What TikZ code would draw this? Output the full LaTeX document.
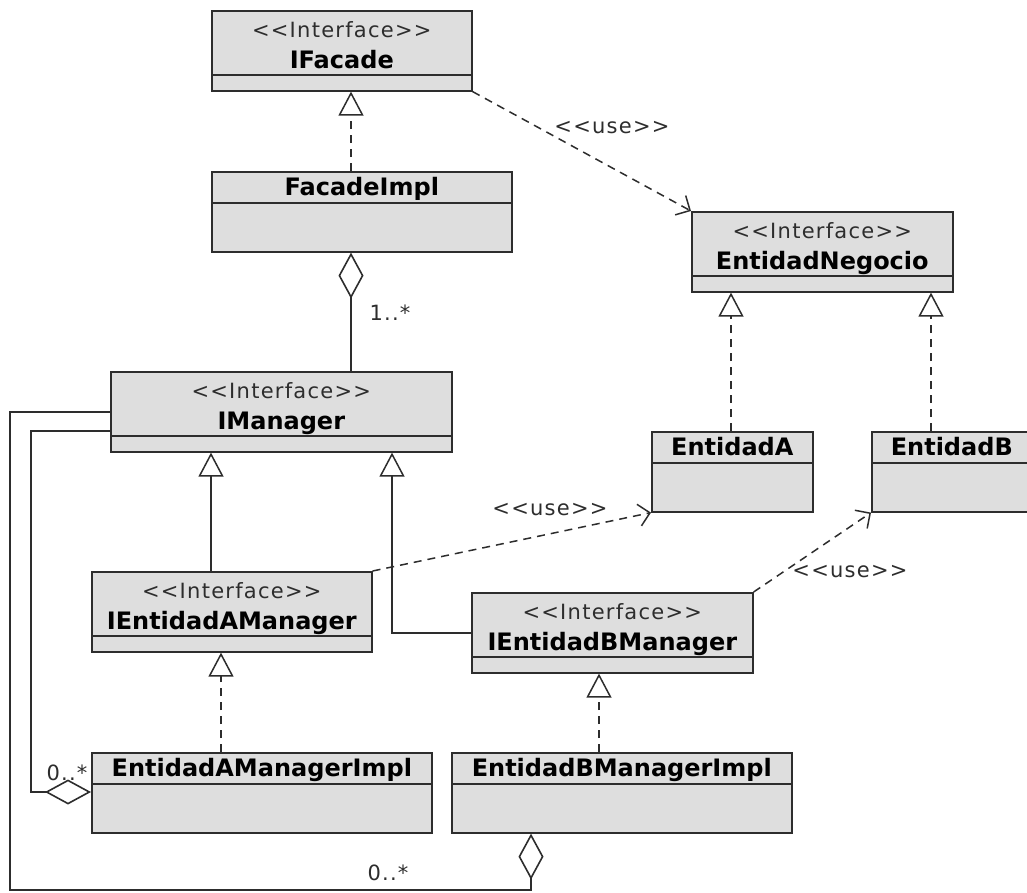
\documentclass[tikz,border=0pt]{standalone}
\usepackage{fontspec}
\setmainfont{DejaVu Sans}[Ligatures=TeXOff]
\newfontfamily\stereofont{DejaVu Sans}[LetterSpace=6, Ligatures=TeXOff]
\usetikzlibrary{arrows.meta}

\definecolor{boxfill}{RGB}{222,222,222}
\definecolor{umlline}{RGB}{45,45,45}

\tikzset{
    classbox/.style={draw=umlline, fill=boxfill, line width=1.6pt, anchor=north west, minimum height=80pt, inner sep=0pt},
    sepline/.style={draw=umlline, line width=1.6pt},
    stereo/.style={anchor=base, inner sep=0pt, text=umlline, font=\stereofont\fontsize{21}{25}\selectfont},
    cname/.style={anchor=base, inner sep=0pt, font=\fontsize{24}{28}\selectfont\bfseries},
    mult/.style={anchor=base, inner sep=0pt, text=umlline, font=\stereofont\fontsize{21}{25}\selectfont},
    realize/.style={draw=umlline, line width=1.5pt, -{Triangle[length=24pt, width=25pt, fill=white]}},
    impl/.style={realize, dash pattern=on 8pt off 6pt},
    usedep/.style={draw=umlline, line width=1.5pt, dash pattern=on 8pt off 6pt, -{Straight Barb[length=11pt, width=22pt]}},
    aggr/.style={draw=umlline, line width=1.6pt, {Diamond[length=46pt, width=25pt, fill=white]}-},
}

\begin{document}
\begin{tikzpicture}[x=1pt, y=-1pt]
        \useasboundingbox (0,0) rectangle (1027,892);

        \node[classbox, minimum width=260pt] (ifacade) at (211,10) {};
        \node[classbox, minimum width=300pt] (facadeimpl) at (211,171) {};
        \node[classbox, minimum width=261pt] (entidadnegocio) at (691,211) {};
        \node[classbox, minimum width=341pt] (imanager) at (110,371) {};
        \node[classbox, minimum width=161pt] (entidada) at (651,431) {};
        \node[classbox, minimum width=160pt] (entidadb) at (871,431) {};
        \node[classbox, minimum width=280pt] (ieamanager) at (91,571) {};
        \node[classbox, minimum width=281pt] (iebmanager) at (471,592) {};
        \node[classbox, minimum width=340pt] (eamimpl) at (91,752) {};
        \node[classbox, minimum width=340pt] (ebmimpl) at (451,752) {};

        \foreach \b/\t in {ifacade/IFacade, entidadnegocio/EntidadNegocio, imanager/IManager, ieamanager/IEntidadAManager, iebmanager/IEntidadBManager} {
            \draw[sepline] ([yshift=-65pt]\b.north west) -- ([yshift=-65pt]\b.north east);
            \node[stereo] (\b-st) at ([yshift=-27pt]\b.north) {<<Interface>>};
            \node[cname] (\b-nm) at ([yshift=-58pt]\b.north) {\t};
        }
        \foreach \b/\t in {facadeimpl/FacadeImpl, entidada/EntidadA, entidadb/EntidadB, eamimpl/EntidadAManagerImpl, ebmimpl/EntidadBManagerImpl} {
            \draw[sepline] ([yshift=-32pt]\b.north west) -- ([yshift=-32pt]\b.north east);
            \node[cname] (\b-nm) at ([yshift=-24pt]\b.north) {\t};
        }

        \draw[impl] ([xshift=140pt]facadeimpl.north west) -- ([xshift=140pt]ifacade.south west);
        \draw[impl] ([xshift=80pt]entidada.north west) -- ([xshift=40pt]entidadnegocio.south west);
        \draw[impl] ([xshift=60pt]entidadb.north west) -- ([xshift=240pt]entidadnegocio.south west);
        \draw[impl] ([xshift=130pt]eamimpl.north west) -- ([xshift=130pt]ieamanager.south west);
        \draw[impl] ([xshift=148pt]ebmimpl.north west) -- ([xshift=128pt]iebmanager.south west);
        \draw[realize] ([xshift=120pt]ieamanager.north west) -- ([xshift=101pt]imanager.south west);
        \draw[realize] (iebmanager.west) -| ([xshift=282pt]imanager.south west);

        \draw[usedep] (ifacade.south east) -- (entidadnegocio.north west);
        \draw[usedep] (ieamanager.north east) -- (entidada.south west);
        \draw[usedep] (iebmanager.north east) -- (entidadb.south west);
        \node[mult] (use1) at (612,133) {<<use>>};
        \node[mult] (use2) at (550,515) {<<use>>};
        \node[mult] (use3) at (850,577) {<<use>>};

        \coordinate (leftbend) at (31,600);
        \coordinate (bottombend) at (10,890);
        \draw[aggr] ([xshift=140pt]facadeimpl.south west) -- ([xshift=241pt]imanager.north west);
        \draw[aggr] ([yshift=-40pt]eamimpl.north west) -| (leftbend) |- ([yshift=-60pt]imanager.north west);
        \draw[aggr] ([xshift=80pt]ebmimpl.south west) |- (bottombend) |- ([yshift=-41pt]imanager.north west);
        \node[mult] (mfacade) at (390,320) {1..*};
        \node[mult] (mleft) at (67,780) {0..*};
        \node[mult] (mbottom) at (388,880) {0..*};
\end{tikzpicture}
\end{document}
